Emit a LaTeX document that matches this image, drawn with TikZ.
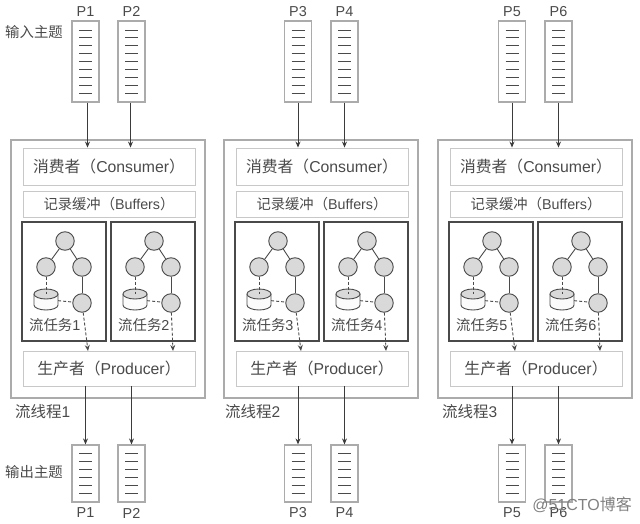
\documentclass[tikz,border=0pt]{standalone}
\usepackage{fontspec}
\setmainfont{Liberation Sans}
\newfontfamily\cjkfont{Noto Sans CJK SC}
\usetikzlibrary{arrows.meta}
\definecolor{framegray}{HTML}{ABABAB}
\definecolor{boxgray}{HTML}{C8C8C8}
\definecolor{inkgray}{HTML}{4A4A4A}
\definecolor{fillgray}{HTML}{D9D9D9}
\tikzset{
	label text/.style={text=inkgray, font=\fontsize{14.4}{16}\selectfont, inner sep=0pt},
	process/.style={draw=framegray, line width=1.2pt, minimum width=194, minimum height=258, inner sep=0pt},
	wide box/.style={draw=boxgray, line width=0.9pt, minimum width=172, inner sep=0pt, text=inkgray, text height=14pt, text depth=2pt, font=\fontsize{15.8}{17}\selectfont},
	task/.style={draw=inkgray, line width=1.4pt, minimum width=84, minimum height=119, inner sep=0pt},
	topic/.style={draw=framegray, line width=1.2pt, minimum width=27, inner sep=0pt},
	bar/.style={inkgray, line width=0.8pt},
	op/.style={circle, draw=inkgray, fill=fillgray, line width=0.9pt, minimum size=18.5, inner sep=0pt},
	store/.style={minimum width=24, minimum height=20, inner sep=0pt},
	store line/.style={draw=inkgray, line width=0.9pt},
	link/.style={inkgray, line width=0.9pt},
	state link/.style={inkgray, line width=0.9pt, densely dashed},
	flow/.style={inkgray!80!black, line width=0.9pt, -{Stealth[length=6pt,width=5pt]}},
	task flow/.style={inkgray, line width=0.9pt, densely dashed, -{Stealth[length=6pt,width=5pt]}},
}
\begin{document}
\begin{tikzpicture}[x=1pt, y=-1pt]
	\useasboundingbox (0,0) rectangle (640,524);

	\foreach \n/\dx/\a/\b/\labx in {1/0/1/2/15, 2/213/3/4/225, 3/427/5/6/442} {
		\begin{scope}[xshift=\dx]
			\node[process] (proc\n) at (108,269) {};
			\node[wide box, minimum height=37] (con\n) at (109,166.5) {{\cjkfont 消费者（}Consumer{\cjkfont ）}};
			\node[wide box, minimum height=26, text height=12pt, font=\fontsize{14.3}{16}\selectfont] (buf\n) at (109,204) {{\cjkfont 记录缓冲（}Buffers{\cjkfont ）}};
			\node[wide box, minimum height=35] (pro\n) at (109,368.5) {{\cjkfont 生产者（}Producer{\cjkfont ）}};

			% two tasks per process
			\foreach \t/\tx/\ex in {\a/22/66, \b/111/62} {
				\node[task] (task\t) at (\tx+42,281.5) {};
				\node[op] (t\t a) at (\tx+43,241) {};
				\node[op] (t\t b) at (\tx+24,267) {};
				\node[op] (t\t c) at (\tx+60,267) {};
				\node[op] (t\t d) at (\tx+60,303) {};
				\node[store] (t\t s) at (\tx+24,299.5) {};
				\node[label text, anchor=west] (t\t l) at (\tx+7,325) {{\cjkfont 流任务}\t};
				\coordinate (t\t r) at (\tx+24,294);
				\coordinate (t\t e) at (\tx+\ex,351);

				% the store is two arcs and a body
				\filldraw[store line, fill=white!90!fillgray] (\tx+12,294) -- (\tx+12,305) arc[start angle=180, end angle=0, x radius=12, y radius=5] -- (\tx+36,294);
				\filldraw[store line, fill=fillgray] (\tx+24,294) ellipse[x radius=12, y radius=5];

				\draw[link] (t\t a) -- (t\t b);
				\draw[link] (t\t a) -- (t\t c);
				\draw[link] (t\t c) -- (t\t d);
				\draw[state link] (t\t b) -- (t\t r);
				\draw[state link] (t\t s) -- (t\t d);
				\draw[task flow] (t\t d) -- (t\t e);
			}
		\end{scope}
		\node[label text, font=\fontsize{15.5}{17}\selectfont, anchor=west] (name\n) at (\labx,412) {{\cjkfont 流线程}\n};
	}

	% input and output topics
	\foreach \p/\px/\pro/\sx in {1/85.5/1/2, 2/131.5/1/-1, 3/298/2/0, 4/344.5/2/0, 5/512/3/0, 6/558.5/3/0} {
		\node[topic, minimum height=81] (in\p) at (\px,61.5) {};
		\node[topic, minimum height=57] (out\p) at (\px,473.5) {};
		\node[label text] (inP\p) at (\px,11.5) {P\p};
		\node[label text] (outP\p) at (\px,513) {P\p};
		\foreach \i in {0,...,8} {
			\draw[bar] (\px-6.5,{30+\i*7.9}) -- (\px+6.5,{30+\i*7.9});
		}
		\foreach \i in {0,...,5} {
			\draw[bar] (\px-6.5,{453+\i*8}) -- (\px+6.5,{453+\i*8});
		}
		\draw[flow] ([xshift=\sx]in\p.south) -- ([xshift=\sx]in\p.south |- con\pro.north);
		\draw[flow] (out\p |- pro\pro.south) -- (out\p);
	}

	\node[label text, anchor=west] (intopic) at (5,32) {\cjkfont 输入主题};
	\node[label text, anchor=west] (outtopic) at (5,472) {\cjkfont 输出主题};
	\node[label text, text=inkgray!70, anchor=east, font=\fontsize{16}{18}\selectfont] (mark) at (632,505) {@51CTO{\cjkfont 博客}};
\end{tikzpicture}
\end{document}
